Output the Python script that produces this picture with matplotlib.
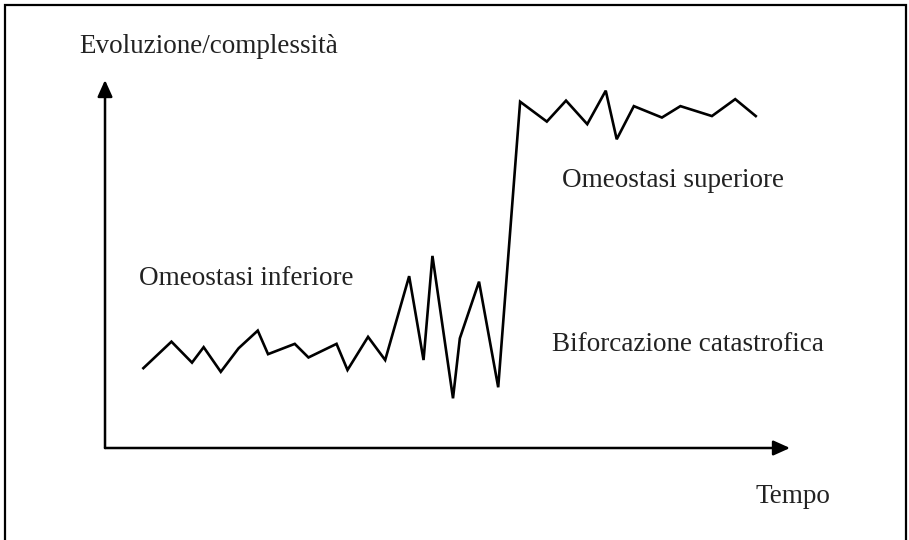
import matplotlib.pyplot as plt
from matplotlib.patches import Rectangle

# time (x) and evolution/complexity (y)
tempo = [5.6, 9.7, 12.7, 14.4, 16.9, 19.5, 22.3, 23.8, 27.7, 29.7, 33.8,
         35.4, 38.4, 40.9, 44.4, 46.5, 47.8, 50.8, 51.8, 54.6, 57.4,
         60.6, 64.5, 67.3, 70.4, 73.1, 74.7, 77.2, 81.3, 84.0, 88.6, 92.0, 95.0]
complessita = [21.7, 28.9, 23.2, 27.4, 20.7, 27.1, 31.9, 25.5, 28.3, 24.6, 28.3,
               21.2, 30.2, 23.9, 46.7, 23.9, 52.2, 13.5, 29.8, 45.2, 16.5,
               94.1, 88.7, 94.4, 88.0, 97.1, 83.9, 92.9, 89.8, 92.9, 90.2, 94.8, 90.2]

labels = {
    "Evoluzione/complessità": (-3.8, 109.0),
    "Omeostasi inferiore": (5.0, 46.0),
    "Omeostasi superiore": (66.7, 72.6),
    "Biforcazione catastrofica": (65.3, 28.0),
    "Tempo": (94.9, -13.3),
}

plt.rcParams['font.family'] = ['Liberation Serif', 'DejaVu Serif']

fig = plt.figure(figsize=(9.09, 5.4), dpi=100)
ax = fig.add_axes([0, 0, 1, 1])
ax.set_xlim(-15.33, 117.37)
ax.set_ylim(-25.0, 121.74)
ax.axis('off')

# arrows for the two axes
arrow = dict(arrowstyle='-|>,head_length=1.0,head_width=0.45', color='black',
             lw=1.8, shrinkA=0, shrinkB=0)
ax.annotate('', xy=(100, 0), xytext=(0, 0), arrowprops=arrow)
ax.annotate('', xy=(0, 100), xytext=(0, 0), arrowprops=arrow)

ax.plot(tempo, complessita, color='black', lw=1.9, solid_joinstyle='miter')

for txt, (x, y) in labels.items():
    ax.text(x, y, txt, fontsize=19.5, color='#222222', ha='left', va='center')

# frame around the picture (bottom edge is cut off)
fig.patches.append(Rectangle((5 / 909, -0.05), 901 / 909, 1.05 - 5 / 540,
                             transform=fig.transFigure, fill=False,
                             edgecolor='black', lw=1.6))

fig.savefig('out.png', dpi=100)
